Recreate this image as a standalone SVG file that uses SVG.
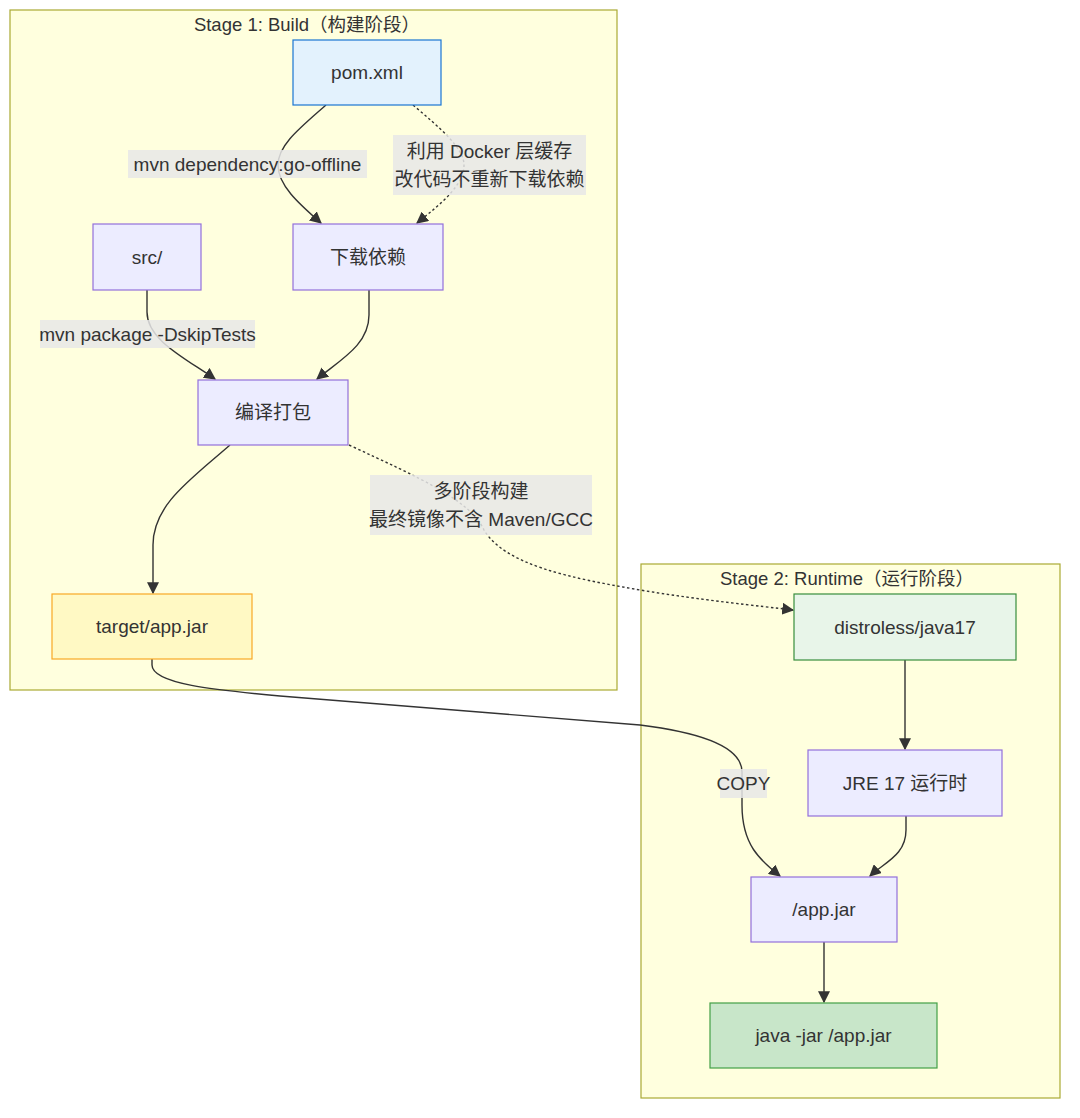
<svg xmlns="http://www.w3.org/2000/svg" width="1080" height="1118" viewBox="0 0 1080 1118">
<style>
text{font-family:"Liberation Sans","Noto Sans CJK SC",sans-serif;font-size:19px;fill:#333;text-anchor:middle;dominant-baseline:central}
text.title{font-size:18.5px}
.cluster{fill:#ffffde;stroke:#aaaa33;stroke-width:1.2}
.node{fill:#ececff;stroke:#9370db;stroke-width:1.2}
.edge{fill:none;stroke:#333;stroke-width:1.4}
.dot{stroke-dasharray:2.5 2.5}
.lbl{fill:#e8e8e8;fill-opacity:0.85}
</style>
<defs>
<marker id="arr" viewBox="0 0 10 10" refX="9" refY="5" markerUnits="userSpaceOnUse" markerWidth="12" markerHeight="12" orient="auto">
<path d="M0,0 L10,5 L0,10 z" fill="#333"/>
</marker>
</defs>
<rect width="1080" height="1118" fill="#fff"/>
<g id="cluster-build">
<rect class="cluster" x="10" y="10" width="607" height="680"/>
<text class="title" x="307" y="24">Stage 1: Build（构建阶段）</text>
</g>
<g id="cluster-runtime">
<rect class="cluster" x="641" y="564" width="419" height="534"/>
<text class="title" x="847" y="578">Stage 2: Runtime（运行阶段）</text>
</g>
<g id="connectors">
<path class="edge" d="M326,105 C300,128 278,145 278,165 C278,185 298,203 321,223" marker-end="url(#arr)"/>
<path class="edge dot" d="M413,105 C440,128 464,148 464,165 C464,185 442,203 417,223" marker-end="url(#arr)"/>
<path class="edge" d="M147,290 L147,312 C147,340 185,358 215,379" marker-end="url(#arr)"/>
<path class="edge" d="M369,290 L369,315 C369,345 340,360 317,379" marker-end="url(#arr)"/>
<path class="edge" d="M230,445 C190,480 153,505 153,545 L153,593" marker-end="url(#arr)"/>
<path class="edge dot" d="M349,445 C420,478 470,500 484,530 C505,565 570,578 640,590 C700,600 760,606 793,610" marker-end="url(#arr)"/>
<path class="edge" d="M152,659 L152,665 C152,684 215,690 280,696 L640,725 C705,733 742,748 742,772 L742,805 C742,845 760,860 780,876" marker-end="url(#arr)"/>
<path class="edge" d="M905,660 L905,749" marker-end="url(#arr)"/>
<path class="edge" d="M906,816 L906,830 C906,855 885,862 870,876" marker-end="url(#arr)"/>
<path class="edge" d="M824,942 L824,1002" marker-end="url(#arr)"/>
</g>
<g id="edge-labels">
<rect class="lbl" x="128" y="150" width="239" height="28"/>
<text x="247.5" y="164">mvn dependency:go-offline</text>
<rect class="lbl" x="393" y="135" width="193" height="60"/>
<text x="489.5" y="151">利用 Docker 层缓存</text>
<text x="489.5" y="179">改代码不重新下载依赖</text>
<rect class="lbl" x="40" y="320" width="215" height="28"/>
<text x="147.5" y="334">mvn package -DskipTests</text>
<rect class="lbl" x="370" y="475" width="222" height="60"/>
<text x="481" y="491">多阶段构建</text>
<text x="481" y="519">最终镜像不含 Maven/GCC</text>
<rect class="lbl" x="720" y="769" width="47" height="29"/>
<text x="743.5" y="783.5">COPY</text>
</g>
<g id="node-pom">
<rect x="293" y="40" width="148" height="65" fill="#e3f2fd" stroke="#1976d2" stroke-width="1.2"/>
<text x="367" y="72.5">pom.xml</text>
</g>
<g id="node-src">
<rect class="node" x="93" y="224" width="108" height="66"/>
<text x="147" y="257">src/</text>
</g>
<g id="node-deps">
<rect class="node" x="293" y="224" width="150" height="66"/>
<text x="368" y="257">下载依赖</text>
</g>
<g id="node-build">
<rect class="node" x="198" y="380" width="150" height="65"/>
<text x="273" y="412.5">编译打包</text>
</g>
<g id="node-target">
<rect x="52" y="594" width="200" height="65" fill="#fff9c4" stroke="#f9a825" stroke-width="1.2"/>
<text x="152" y="626.5">target/app.jar</text>
</g>
<g id="node-distroless">
<rect x="794" y="594" width="222" height="66" fill="#e8f5e9" stroke="#388e3c" stroke-width="1.2"/>
<text x="905" y="627">distroless/java17</text>
</g>
<g id="node-jre">
<rect class="node" x="808" y="750" width="194" height="66"/>
<text x="905" y="783">JRE 17 运行时</text>
</g>
<g id="node-appjar">
<rect class="node" x="751" y="877" width="146" height="65"/>
<text x="824" y="909.5">/app.jar</text>
</g>
<g id="node-run">
<rect x="710" y="1003" width="227" height="65" fill="#c8e6c9" stroke="#43a047" stroke-width="1.2"/>
<text x="823.5" y="1035.5">java -jar /app.jar</text>
</g>
</svg>
